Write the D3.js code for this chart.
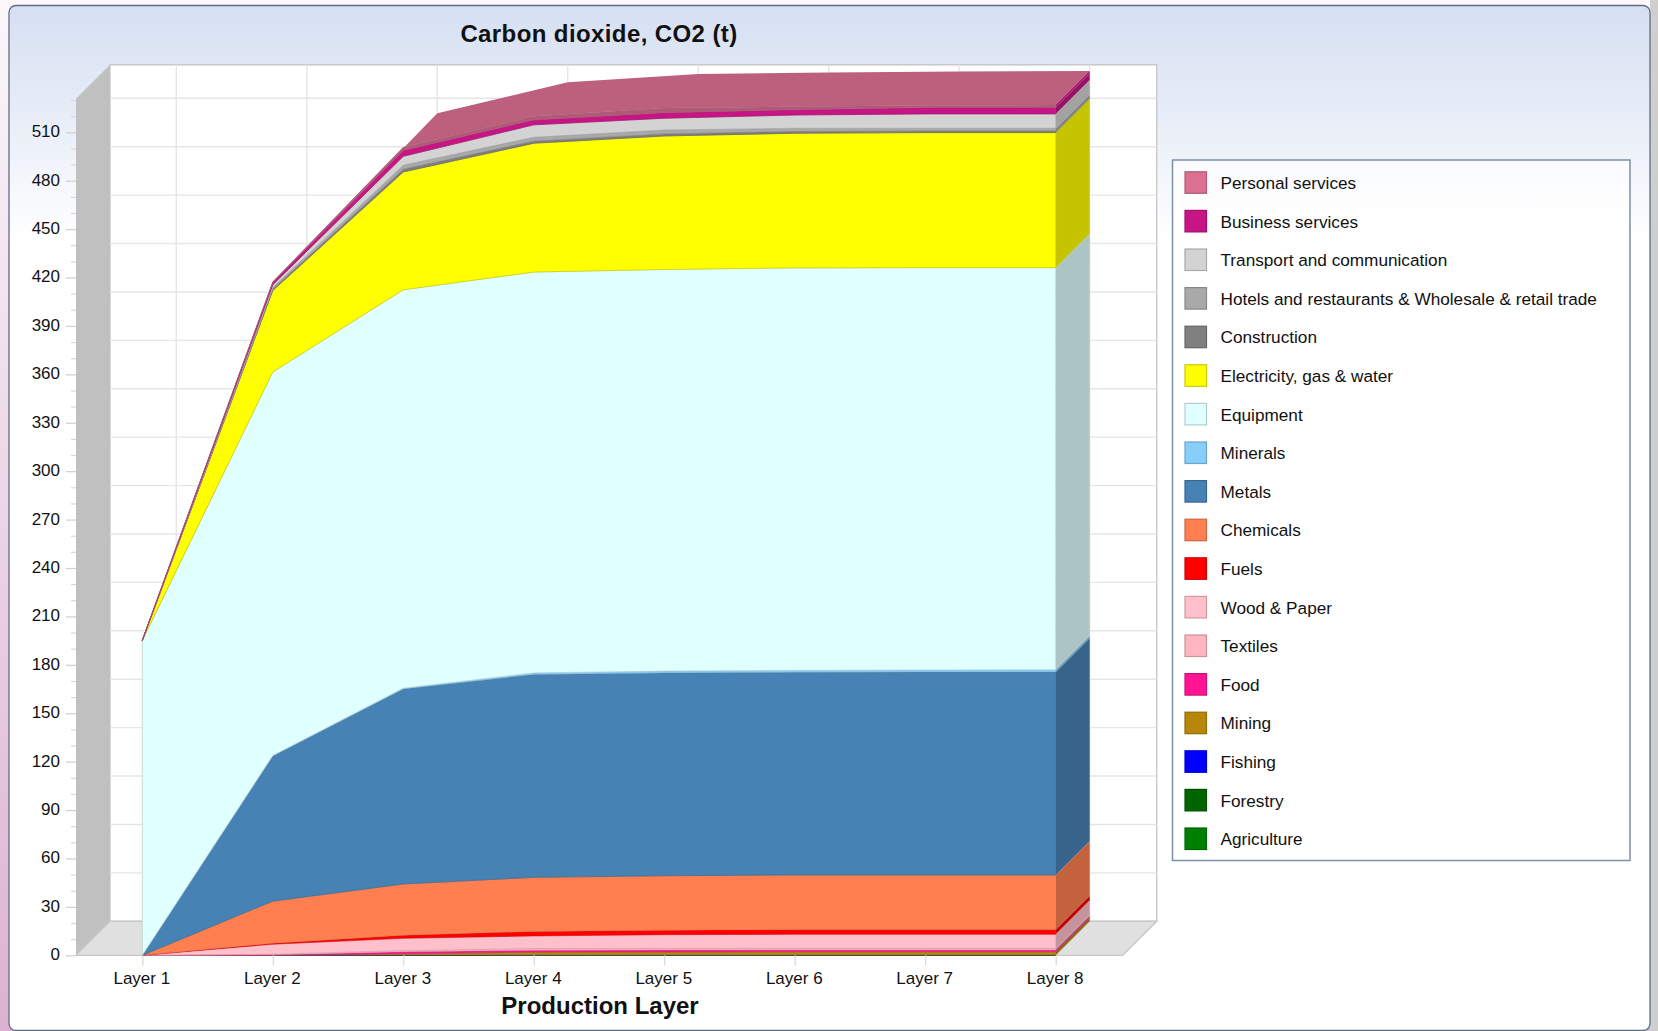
<!DOCTYPE html>
<html><head><meta charset="utf-8">
<script src="https://cdn.jsdelivr.net/npm/d3@7"></script>
<style>
html,body{margin:0;padding:0;overflow:hidden;background:#fff}
svg{display:block}
text{font-family:"Liberation Sans",Arial,sans-serif;fill:#111}
</style></head><body>
<div id="chart"></div>
<script>
const layers = ["Layer 1","Layer 2","Layer 3","Layer 4","Layer 5","Layer 6","Layer 7","Layer 8"];
const seriesNames = ["Agriculture","Forestry","Fishing","Mining","Food","Textiles","Wood & Paper","Fuels","Chemicals","Metals","Minerals","Equipment","Electricity, gas & water","Construction","Hotels and restaurants & Wholesale & retail trade","Transport and communication","Business services","Personal services"];
const seriesColors = ["#008000","#006400","#0000FF","#B8860B","#FF1493","#FFB6C1","#FFC0CB","#FF0000","#FF7F50","#4682B4","#87CEFA","#E0FFFF","#FFFF00","#808080","#A9A9A9","#D3D3D3","#C71585","#DB7093"];
const agriculture  = [0,0.02,0.1,0.15,0.15,0.15,0.15,0.15];
const forestry     = [0,0,0.02,0.03,0.03,0.03,0.03,0.03];
const fishing      = [0,0,0.01,0.02,0.02,0.02,0.02,0.02];
const mining       = [0,0.05,0.87,1.8,1.9,2,2,2];
const food         = [0,0.2,1.2,1.2,1.2,1.1,1.1,1.1];
const textiles     = [0,0.4,0.8,1,1,1,1,1];
const woodPaper    = [0,6.2,7.5,7.8,8.5,8.7,8.7,8.7];
const fuels        = [0,0.6,1.9,2.8,2.8,2.9,2.9,2.9];
const chemicals    = [0,26.1,31.8,33.5,33.7,33.9,33.9,33.9];
const metals       = [0,89.9,120.8,125.7,125.7,125.6,125.7,125.7];
const minerals     = [0,0.3,0.5,1,1.1,1.2,1.3,1.4];
const equipment    = [195,237.7,246.9,248.4,248.9,249.4,249.3,249.2];
const electricity  = [0.1,50.5,73,79.8,82.7,83.4,83.7,83.7];
const construction = [0,0.6,1.7,1.3,1.3,1.1,1,1];
const hotels       = [0,1.2,2.5,2.4,2.4,2,1.7,1.7];
const transport    = [0,1.8,5.5,7.7,7.3,8.2,8.9,8.9];
const business     = [0.1,1.2,3.6,3,3.4,3.2,3.9,3.9];
const personal     = [0.1,0.6,2,2.3,2.9,2,1.3,1.6];
const seriesValues = [agriculture,forestry,fishing,mining,food,textiles,woodPaper,fuels,chemicals,metals,minerals,equipment,electricity,construction,hotels,transport,business,personal];
const yMajorTicks = d3.range(0,511,30);
const yMinorTicks = d3.range(0,531,10).filter(v=>v%30!==0);
const titleText = "Carbon dioxide, CO2 (t)";
const xTitleText = "Production Layer";

const W=1658,H=1031, DX=34, DY=-34;
const x=d3.scalePoint(layers,[142.3,1055.7]);
const y=d3.scaleLinear([0,530],[955.3,100]);
const svg=d3.select("#chart").append("svg").attr("width",W).attr("height",H);
const defs=svg.append("defs");
const bg=defs.append("linearGradient").attr("id","bg").attr("x1",0).attr("x2",0).attr("y1",0).attr("y2",1);
bg.append("stop").attr("offset",0).attr("stop-color","#fbf7fb");
bg.append("stop").attr("offset",1).attr("stop-color","#dcb2d2");
const pg=defs.append("linearGradient").attr("id","pg").attr("x1",0).attr("x2",0).attr("y1",0).attr("y2",1);
pg.append("stop").attr("offset",0).attr("stop-color","#d6e0f2");
pg.append("stop").attr("offset",0.1).attr("stop-color","#e6ecf7");
pg.append("stop").attr("offset",0.23).attr("stop-color","#ffffff");
pg.append("stop").attr("offset",1).attr("stop-color","#ffffff");

svg.append("rect").attr("width",W).attr("height",H).attr("fill","url(#bg)");
svg.append("rect").attr("x",1650).attr("width",8).attr("height",H).attr("fill","#cfcfcf");
svg.append("rect").attr("x",9).attr("y",5.5).attr("width",1641).attr("height",1025).attr("rx",7)
  .attr("fill","url(#pg)").attr("stroke","#5f6f82").attr("stroke-width",1.3);

// 3D walls
const line=d3.line();
const x0=76,x1=1122.7,yB=y(0),yT=y(530.8);
svg.append("path").attr("d",line([[x0+DX,yT+DY],[x1+DX,yT+DY],[x1+DX,yB+DY],[x0+DX,yB+DY]])+"Z")
  .attr("fill","#fff").attr("stroke","#c8c8c8").attr("stroke-width",1.4);
const grid=svg.append("g").attr("stroke","#e6e6e9").attr("stroke-width",1.4);
grid.selectAll("line.h").data(yMajorTicks.filter(v=>v>0)).join("line").attr("class","h")
  .attr("x1",x0+DX).attr("x2",x1+DX).attr("y1",d=>y(d)+DY).attr("y2",d=>y(d)+DY);
grid.selectAll("line.v").data(layers).join("line").attr("class","v")
  .attr("x1",d=>x(d)+DX).attr("x2",d=>x(d)+DX).attr("y1",yT+DY).attr("y2",yB+DY);
svg.append("path").attr("d",line([[x0,yT],[x0+DX,yT+DY],[x0+DX,yB+DY],[x0,yB]])+"Z").attr("fill","#c0c0c0");
svg.append("g").attr("stroke","#c5c5c5").attr("stroke-width",1).selectAll("line").data(yMajorTicks.filter(v=>v>0)).join("line")
  .attr("x1",x0).attr("x2",x0+DX).attr("y1",d=>y(d)).attr("y2",d=>y(d)+DY);
svg.append("path").attr("d",line([[x0,yB],[x0+DX,yB+DY],[x1+DX,yB+DY],[x1,yB]])+"Z")
  .attr("fill","#e0e0e0").attr("stroke","#c8c8c8").attr("stroke-width",1.3);

// stacked areas
const table=layers.map((l,i)=>{const o={layer:l};seriesNames.forEach((s,j)=>o[s]=seriesValues[j][i]);return o;});
const stacked=d3.stack().keys(seriesNames)(table);
const shade=(c,k)=>{const r=d3.rgb(c);return d3.rgb(r.r*k,r.g*k,r.b*k).formatHex();};
const area=d3.area().x(d=>x(d.data.layer)).y0(d=>y(d[0])).y1(d=>y(d[1]));
const g3=svg.append("g");
// top face of the pile
const topS=stacked[stacked.length-1], topC=seriesColors[seriesColors.length-1];
const topFront=topS.map(d=>[x(d.data.layer),y(d[1])]);
const topBack=topS.map(d=>[x(d.data.layer)+DX,y(d[1])+DY]).reverse();
g3.append("path").attr("d",line(topFront.concat(topBack))+"Z").attr("fill",shade(topC,0.86));
// side faces
stacked.forEach((s,i)=>{
  const c=seriesColors[i], d=s[s.length-1], px=x(d.data.layer);
  g3.append("path").attr("d",line([[px,y(d[0])],[px,y(d[1])],[px+DX,y(d[1])+DY],[px+DX,y(d[0])+DY]])+"Z")
    .attr("fill",i===17?shade(seriesColors[16],0.77):shade(c,0.77));
});
// front faces
stacked.forEach((s,i)=>{
  const c=i===17?shade(seriesColors[i],0.8):seriesColors[i];
  g3.append("path").attr("d",area(s)).attr("fill",c)
    .attr("stroke",shade(seriesColors[i],0.8)).attr("stroke-width",i===17?0.8:1).attr("stroke-opacity",i<11&&i!==9?0.45:0.7);
});

// axes
const yAxis=d3.axisLeft(y).tickValues(yMajorTicks).tickSize(10).tickPadding(6).tickFormat(d3.format("d"));
const gy=svg.append("g").attr("transform",`translate(${x0},0)`).call(yAxis);
gy.select(".domain").remove();
gy.selectAll("line").attr("stroke","#d0d0d0").attr("stroke-width",1.2);
gy.selectAll("text").attr("font-size",17).attr("fill","#111").attr("transform","translate(0,-1)");
const gyM=svg.append("g").attr("transform",`translate(${x0},0)`).call(d3.axisLeft(y).tickValues(yMinorTicks).tickSize(5).tickFormat(""));
gyM.select(".domain").remove();
gyM.selectAll("line").attr("stroke","#d8d8d8").attr("stroke-width",1.2);
const xAxis=d3.axisBottom(x).tickSize(10).tickPadding(7);
const gx=svg.append("g").attr("transform",`translate(0,${yB})`).call(xAxis);
gx.select(".domain").remove();
gx.selectAll("line").attr("stroke","#d8d8d8").attr("stroke-width",1.2);
gx.selectAll("text").attr("font-size",17).attr("fill","#111").attr("transform","translate(-1,0)");

// titles
svg.append("text").attr("x",599).attr("y",41.5).attr("text-anchor","middle").attr("font-size",24).attr("font-weight","bold").attr("letter-spacing",0.4).text(titleText);
svg.append("text").attr("x",600).attr("y",1013.5).attr("text-anchor","middle").attr("font-size",24).attr("font-weight","bold").text(xTitleText);

// legend
svg.append("rect").attr("x",1172.5).attr("y",160).attr("width",457.5).attr("height",700.5).attr("fill","#fff").attr("fill-opacity",0.7)
  .attr("stroke","#7c90a6").attr("stroke-width",1.5);
const legendNames=seriesNames.slice().reverse(), legendColors=seriesColors.slice().reverse();
const ly=d3.scaleBand(d3.range(legendNames.length),[162.5,162.5+18*38.6]);
const lg=svg.append("g").selectAll("g").data(legendNames).join("g").attr("transform",(d,i)=>`translate(0,${ly(i)+ly.bandwidth()/2+0.5})`);
lg.append("rect").attr("x",1185).attr("y",-10.5).attr("width",21.5).attr("height",21.5)
  .attr("fill",(d,i)=>legendColors[i]).attr("stroke",(d,i)=>shade(legendColors[i],0.8)).attr("stroke-width",1.2);
lg.append("text").attr("x",1220.5).attr("y",6.7).attr("font-size",17.2).text(d=>d);
</script>
</body></html>
